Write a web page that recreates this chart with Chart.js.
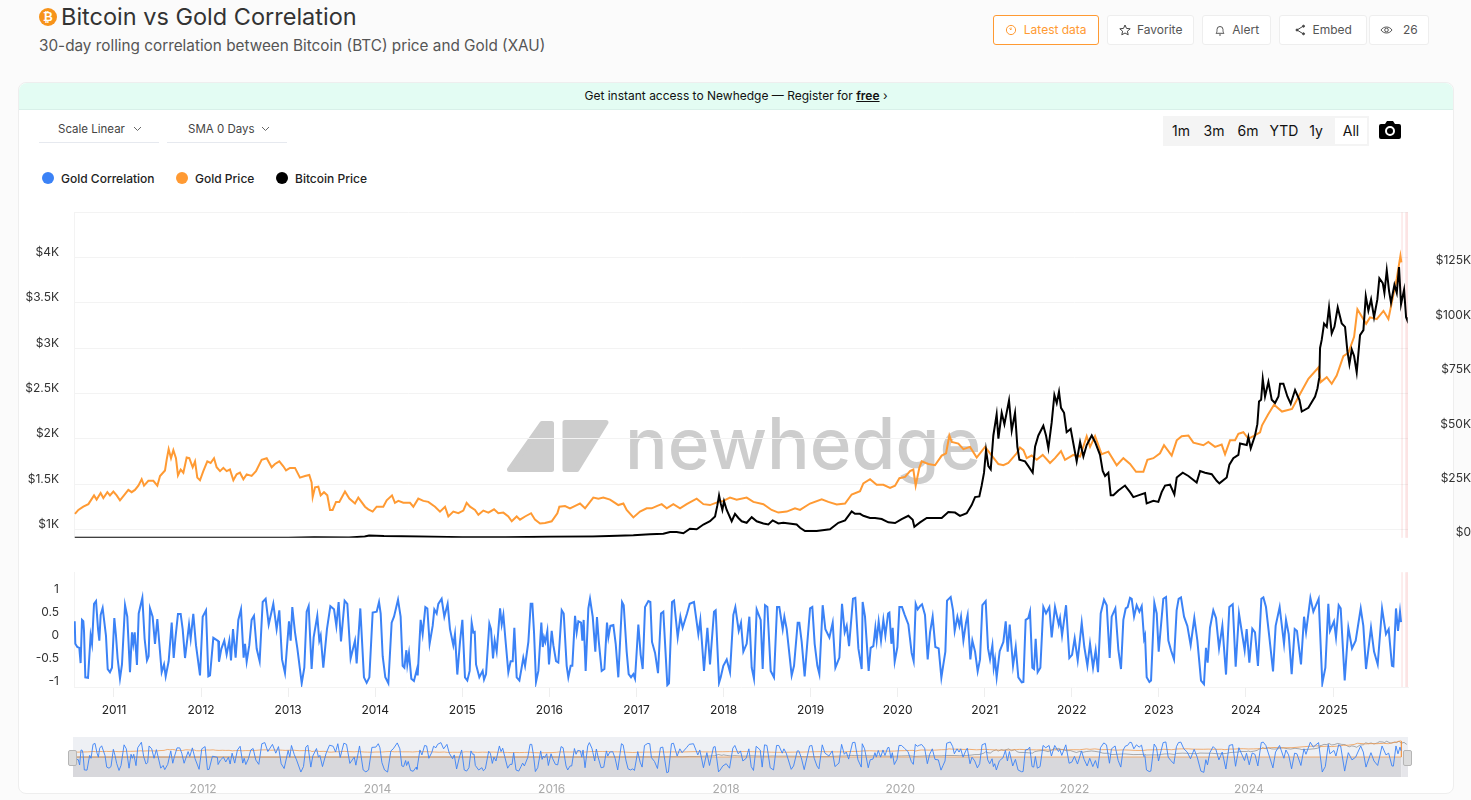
<!DOCTYPE html>
<html lang="en">
<head>
<meta charset="UTF-8">
<title>Bitcoin vs Gold Correlation</title>
<script src="https://cdn.jsdelivr.net/npm/chart.js"></script>
<style>
  html, body { margin: 0; padding: 0; height: 800px; overflow: hidden; background: #fbfbfb; font-family: Inter, sans-serif; color: #333; }
  .abs { position: absolute; white-space: nowrap; }
  canvas { position: absolute; left: 0; }
  h1 { position: absolute; left: 61px; top: 2px; margin: 0; font-size: 23.5px; line-height: 30px; font-weight: 400; color: #333; white-space: nowrap; }
  .sub { left: 39px; top: 36px; font-size: 15.3px; line-height: 20px; color: #555; }
  .coin { left: 39px; top: 8px; width: 18px; height: 18px; border-radius: 50%; background: #f7931a; color: #fff; font: bold 12px/18px "DejaVu Sans", sans-serif; text-align: center; }
  .btn { top: 15px; height: 28px; line-height: 28px; background: #fff; border: 1px solid #eeeeee; border-radius: 3px; font-size: 12px; color: #555; text-align: center; }
  .btn svg { vertical-align: -2px; margin-right: 3px; }
  .btn.on { border: 1px solid #ff9a33; color: #ff9a33; }
  .card { left: 18px; top: 82px; width: 1434px; height: 710px; background: #fff; border: 1px solid #eeeeee; border-radius: 8px; }
  .banner { left: 19px; top: 83px; width: 1434px; height: 26px; line-height: 26px; background: #e3fcf3; border-bottom: 1px solid #d8f0e9; border-radius: 8px 8px 0 0; text-align: center; font-size: 12px; color: #111; }
  .banner b { text-decoration: underline; font-weight: 600; }
  .select { top: 116px; height: 26px; line-height: 26px; border-bottom: 1px solid #e6e9ef; font-size: 11.5px; color: #444; }
  .select svg { position: absolute; right: 17px; top: 10px; }
  .range { left: 1163px; top: 116px; width: 206px; height: 30px; background: #f4f4f4; }
  .range span { position: absolute; top: 2px; height: 26px; line-height: 26px; text-align: center; font-size: 14px; color: #111; }
  .range span.on { background: #fff; }
  .legend { top: 170px; font-size: 12px; font-weight: 500; line-height: 17px; color: #222; }
  .legend i { position: absolute; left: -19px; top: 2px; width: 12px; height: 12px; border-radius: 50%; }
  .mark { left: 625px; top: 403px; font-size: 71px; line-height: 80px; font-weight: 500; color: #cdcdcd; }
  .handle { top: 750px; width: 7px; height: 14px; background: #dcdcdc; border: 1px solid #b5b5b5; border-radius: 2px; }
</style>
</head>
<body>
  <div class="abs coin">₿</div>
  <h1>Bitcoin vs Gold Correlation</h1>
  <div class="abs sub">30-day rolling correlation between Bitcoin (BTC) price and Gold (XAU)</div>

  <div class="abs btn on" style="left:993px;width:104px"><svg width="12" height="12" viewBox="0 0 12 12" fill="none" stroke="#ff9a33"><circle cx="6" cy="6" r="4.6"/><path d="M6 3.5V6L4.5 4.5"/></svg> Latest data</div>
  <div class="abs btn" style="left:1107px;width:85px"><svg width="12" height="12" viewBox="0 0 12 12" fill="none" stroke="#444"><path d="M6 1l1.5 3.4 3.7.4-2.8 2.4.8 3.6L6 9l-3.2 1.8.8-3.6L.8 4.8l3.7-.4z"/></svg> Favorite</div>
  <div class="abs btn" style="left:1202px;width:67px"><svg width="12" height="12" viewBox="0 0 12 12" fill="none" stroke="#555"><path d="M2 9.3c1-1 1-2.2 1-3.8a3 3 0 016 0c0 1.600 0 2.800 1 3.800zM5 11h2"/></svg> Alert</div>
  <div class="abs btn" style="left:1279px;width:86px"><svg width="12" height="12" viewBox="0 0 12 12" fill="#444" stroke="#444"><path d="M9.500 2L3 6l6.500 4" fill="none"/><circle cx="9.500" cy="2.200" r="1"/><circle cx="3" cy="6" r="1"/><circle cx="9.500" cy="9.800" r="1"/></svg> Embed</div>
  <div class="abs btn" style="left:1369px;width:58px"><svg width="13" height="12" viewBox="0 0 13 12" fill="none" stroke="#555"><path d="M1 6c2.500-4 8.500-4 11 0-2.500 4-8.500 4-11 0z"/><circle cx="6.500" cy="6" r="1.800"/></svg> &nbsp;26</div>

  <div class="abs card"></div>
  <div class="abs banner">Get instant access to Newhedge — Register for <b>free</b> &#8250;</div>

  <div class="abs select" style="left:39px;width:101px;padding-left:19px">Scale Linear<svg width="9" height="6" viewBox="0 0 9 6" fill="none" stroke="#666"><path d="M1 1l3.500 3.500L8 1"/></svg></div>
  <div class="abs select" style="left:167px;width:99px;padding-left:21px">SMA 0 Days<svg width="9" height="6" viewBox="0 0 9 6" fill="none" stroke="#666"><path d="M1 1l3.500 3.500L8 1"/></svg></div>

  <div class="abs range" id="range"></div>
  <svg class="abs" style="left:1379px;top:121px" width="22" height="18" viewBox="0 0 22 18"><path d="M2 3h4l2-3h6l2 3h4a2 2 0 012 2v11a2 2 0 01-2 2H2a2 2 0 01-2-2V5a2 2 0 012-2z" fill="#000"/><circle cx="11" cy="10" r="4" fill="none" stroke="#fff" stroke-width="2"/></svg>

  <div id="legend"></div>

  <svg class="abs" style="left:505px;top:418px" width="108" height="56" viewBox="0 0 108 56">
    <g fill="#cdcdcd" stroke="#cdcdcd" stroke-width="5" stroke-linejoin="round">
      <path d="M4.500 51.500L37 5.500h9.500v46z"/>
      <path d="M60 4.500h41L72 51.500H60z"/>
    </g>
  </svg>
  <div class="abs mark">newhedge</div>

  <canvas id="mainChart" width="1471" height="370" style="top:190px"></canvas>
  <canvas id="corrChart" width="1471" height="170" style="top:550px"></canvas>
  <canvas id="navChart" width="1471" height="70" style="top:726px"></canvas>

  <div class="abs handle" style="left:68px"></div>
  <div class="abs handle" style="left:1403px"></div>

<script>
// values: [year, value]
const goldPoints = [[2010.552,1173],[2010.591,1216],[2010.648,1252],[2010.706,1280],[2010.771,1377],[2010.801,1330],[2010.847,1402],[2010.878,1348],[2010.924,1412],[2010.954,1377],[2010.993,1419],[2011.031,1377],[2011.069,1323],[2011.115,1377],[2011.165,1437],[2011.203,1412],[2011.241,1437],[2011.28,1484],[2011.318,1555],[2011.345,1484],[2011.395,1537],[2011.452,1537],[2011.498,1484],[2011.529,1591],[2011.586,1652],[2011.605,1769],[2011.628,1887],[2011.655,1787],[2011.682,1876],[2011.712,1787],[2011.735,1598],[2011.766,1662],[2011.797,1627],[2011.835,1794],[2011.865,1787],[2011.904,1687],[2011.931,1752],[2011.957,1573],[2011.988,1544],[2012.026,1644],[2012.072,1752],[2012.11,1734],[2012.149,1787],[2012.179,1687],[2012.218,1644],[2012.256,1680],[2012.294,1644],[2012.332,1662],[2012.371,1544],[2012.409,1609],[2012.447,1627],[2012.486,1555],[2012.524,1609],[2012.581,1591],[2012.631,1644],[2012.696,1769],[2012.754,1787],[2012.811,1687],[2012.849,1723],[2012.899,1752],[2012.945,1698],[2012.976,1652],[2013.021,1680],[2013.079,1680],[2013.136,1573],[2013.194,1591],[2013.243,1602],[2013.27,1519],[2013.282,1359],[2013.309,1466],[2013.347,1473],[2013.374,1377],[2013.412,1412],[2013.45,1377],[2013.481,1216],[2013.511,1216],[2013.55,1305],[2013.588,1305],[2013.653,1419],[2013.703,1341],[2013.768,1287],[2013.806,1352],[2013.883,1252],[2013.921,1223],[2013.971,1198],[2014.017,1252],[2014.093,1252],[2014.132,1323],[2014.193,1377],[2014.227,1295],[2014.266,1316],[2014.323,1295],[2014.4,1295],[2014.438,1252],[2014.495,1341],[2014.553,1316],[2014.61,1305],[2014.687,1252],[2014.744,1198],[2014.802,1252],[2014.84,1145],[2014.897,1198],[2014.955,1180],[2015.012,1209],[2015.05,1295],[2015.089,1252],[2015.146,1216],[2015.185,1162],[2015.242,1209],[2015.3,1187],[2015.365,1223],[2015.414,1180],[2015.472,1187],[2015.529,1144],[2015.568,1091],[2015.625,1144],[2015.663,1109],[2015.721,1144],[2015.79,1180],[2015.835,1109],[2015.893,1066],[2015.95,1073],[2016.027,1091],[2016.092,1180],[2016.115,1252],[2016.18,1259],[2016.237,1234],[2016.314,1270],[2016.352,1287],[2016.41,1234],[2016.505,1352],[2016.563,1341],[2016.62,1352],[2016.697,1330],[2016.754,1295],[2016.792,1270],[2016.85,1287],[2016.888,1216],[2016.965,1134],[2017.041,1198],[2017.118,1234],[2017.175,1234],[2017.233,1259],[2017.29,1280],[2017.348,1234],[2017.424,1280],[2017.501,1234],[2017.577,1280],[2017.692,1341],[2017.769,1280],[2017.845,1270],[2017.941,1305],[2017.998,1316],[2018.075,1352],[2018.151,1330],[2018.266,1352],[2018.343,1305],[2018.458,1280],[2018.553,1216],[2018.63,1187],[2018.726,1198],[2018.821,1234],[2018.879,1216],[2018.994,1287],[2019.128,1334],[2019.204,1305],[2019.3,1277],[2019.396,1287],[2019.472,1387],[2019.568,1423],[2019.606,1509],[2019.683,1555],[2019.759,1494],[2019.836,1494],[2019.913,1459],[2019.97,1484],[2020.02,1566],[2020.085,1580],[2020.142,1644],[2020.18,1662],[2020.207,1484],[2020.249,1680],[2020.276,1752],[2020.353,1723],[2020.429,1709],[2020.506,1816],[2020.556,1841],[2020.594,2037],[2020.621,1966],[2020.697,1948],[2020.755,1887],[2020.831,1912],[2020.908,1794],[2021.004,1912],[2021.061,1841],[2021.157,1723],[2021.214,1709],[2021.271,1734],[2021.367,1841],[2021.405,1905],[2021.444,1876],[2021.482,1787],[2021.539,1816],[2021.597,1769],[2021.666,1823],[2021.75,1734],[2021.807,1787],[2021.876,1866],[2021.922,1769],[2022.018,1823],[2022.095,1805],[2022.171,2030],[2022.21,1912],[2022.267,2030],[2022.343,1830],[2022.42,1859],[2022.516,1709],[2022.592,1787],[2022.669,1723],[2022.738,1637],[2022.822,1637],[2022.868,1769],[2022.937,1787],[2023.013,1841],[2023.059,1930],[2023.147,1816],[2023.205,1984],[2023.262,2030],[2023.339,2037],[2023.396,1959],[2023.511,1930],[2023.568,1966],[2023.645,1912],[2023.721,1937],[2023.76,1830],[2023.817,1984],[2023.875,1984],[2023.913,2055],[2023.97,2073],[2024.028,2001],[2024.085,2030],[2024.162,2073],[2024.185,2150],[2024.254,2269],[2024.323,2376],[2024.414,2301],[2024.529,2330],[2024.621,2494],[2024.717,2662],[2024.832,2787],[2024.859,2626],[2024.928,2680],[2024.985,2608],[2025.042,2698],[2025.119,2912],[2025.176,2948],[2025.242,3126],[2025.28,3430],[2025.38,3269],[2025.425,3340],[2025.502,3322],[2025.579,3412],[2025.636,3322],[2025.674,3501],[2025.732,3769],[2025.774,4019],[2025.785,3947]];

const btcPoints = [[2010.55,0],[2011.4,30],[2012,10],[2013,13],[2013.3,200],[2013.7,130],[2013.88,600],[2013.93,1100],[2014.1,800],[2014.5,620],[2015,300],[2015.5,270],[2016,430],[2016.5,650],[2016.965,1190],[2017.156,1600],[2017.309,1900],[2017.386,2700],[2017.462,2700],[2017.539,2100],[2017.615,4200],[2017.692,3900],[2017.769,6100],[2017.845,7600],[2017.903,9800],[2017.93,15000],[2017.949,19500],[2017.968,15800],[2017.987,12800],[2018.006,16800],[2018.037,12800],[2018.094,7600],[2018.132,11000],[2018.171,9100],[2018.209,7600],[2018.266,6900],[2018.324,9500],[2018.381,7600],[2018.458,6600],[2018.515,6100],[2018.565,8000],[2018.63,6600],[2018.687,6900],[2018.84,6100],[2018.879,4600],[2018.936,3100],[2019.07,3100],[2019.223,3900],[2019.319,6900],[2019.396,8000],[2019.472,12100],[2019.51,11000],[2019.568,11000],[2019.606,10100],[2019.683,9100],[2019.74,9100],[2019.817,8600],[2019.893,7100],[2019.97,6800],[2020.046,8600],[2020.123,10100],[2020.173,8300],[2020.192,5100],[2020.257,7100],[2020.334,9100],[2020.391,9100],[2020.506,9100],[2020.582,11800],[2020.659,11600],[2020.716,10100],[2020.793,11300],[2020.85,15000],[2020.889,18700],[2020.938,19000],[2020.965,24000],[2020.992,29900],[2021.015,40300],[2021.042,32900],[2021.069,31400],[2021.099,47000],[2021.137,56700],[2021.157,45500],[2021.195,57400],[2021.226,52200],[2021.279,63100],[2021.31,49300],[2021.348,57400],[2021.375,41800],[2021.398,35900],[2021.463,35100],[2021.501,32900],[2021.551,29900],[2021.578,41800],[2021.616,47000],[2021.673,51500],[2021.704,47000],[2021.731,41100],[2021.769,53000],[2021.8,65600],[2021.827,61900],[2021.853,67100],[2021.876,59700],[2021.911,57400],[2021.941,48500],[2021.987,50000],[2022.018,43300],[2022.056,35100],[2022.095,44000],[2022.133,37300],[2022.171,42600],[2022.229,47000],[2022.267,44000],[2022.324,38100],[2022.355,30700],[2022.382,28400],[2022.42,29900],[2022.447,19500],[2022.477,19500],[2022.535,21700],[2022.611,24000],[2022.669,21000],[2022.707,18700],[2022.764,19500],[2022.841,20500],[2022.86,15800],[2022.937,17000],[2022.994,16500],[2023.032,21000],[2023.071,24000],[2023.128,24400],[2023.178,19900],[2023.205,27700],[2023.274,29900],[2023.339,28400],[2023.434,25400],[2023.473,30700],[2023.53,29900],[2023.607,29200],[2023.664,26200],[2023.695,25000],[2023.779,27700],[2023.81,33600],[2023.855,36600],[2023.913,38100],[2023.932,43300],[2024.009,42600],[2024.028,46300],[2024.055,41100],[2024.104,47000],[2024.131,52200],[2024.15,62600],[2024.174,63400],[2024.193,73000],[2024.219,64900],[2024.258,71600],[2024.296,63400],[2024.334,61900],[2024.373,64900],[2024.392,70800],[2024.43,70800],[2024.476,64900],[2024.514,61600],[2024.564,67900],[2024.614,63400],[2024.641,58000],[2024.717,59700],[2024.794,64900],[2024.821,68600],[2024.843,73800],[2024.851,87200],[2024.87,90900],[2024.897,98400],[2024.928,96900],[2024.954,105800],[2024.985,93900],[2025.016,96900],[2025.054,105800],[2025.1,98400],[2025.138,96900],[2025.165,85700],[2025.188,79800],[2025.215,86500],[2025.242,83500],[2025.272,76000],[2025.31,93100],[2025.349,95400],[2025.376,111000],[2025.406,104300],[2025.437,109500],[2025.471,101300],[2025.509,109500],[2025.532,119200],[2025.571,117000],[2025.59,112500],[2025.617,122900],[2025.644,113200],[2025.666,108000],[2025.705,116200],[2025.732,112500],[2025.758,124400],[2025.781,107300],[2025.816,114000],[2025.839,101300],[2025.846,100600]];

const corrPoints = [[2010.549,.41],[2010.556,-.08],[2010.579,-.15],[2010.602,-.17],[2010.617,-.5],[2010.633,.44],[2010.648,.41],[2010.656,.2],[2010.671,-.81],[2010.702,-.82],[2010.732,.1],[2010.748,-.08],[2010.771,.79],[2010.794,.85],[2010.817,.24],[2010.832,-.01],[2010.847,.55],[2010.87,.7],[2010.908,.1],[2010.928,-.63],[2010.954,-.7],[2010.977,-.6],[2011.004,.48],[2011.023,.1],[2011.042,-.4],[2011.069,-.84],[2011.092,-.53],[2011.127,.76],[2011.153,.51],[2011.184,-.7],[2011.207,.17],[2011.222,-.08],[2011.238,.17],[2011.264,-.54],[2011.284,.58],[2011.326,.92],[2011.352,.03],[2011.379,-.44],[2011.398,-.35],[2011.414,.69],[2011.444,.51],[2011.471,-.08],[2011.498,.46],[2011.548,-.7],[2011.575,-.53],[2011.594,-.79],[2011.628,-.46],[2011.663,.38],[2011.686,-.39],[2011.705,.03],[2011.735,.57],[2011.766,.57],[2011.789,.24],[2011.816,-.39],[2011.862,.34],[2011.881,.03],[2011.911,.57],[2011.942,-.11],[2011.988,-.77],[2012.019,.51],[2012.057,.65],[2012.084,-.79],[2012.103,-.77],[2012.141,.05],[2012.198,-.02],[2012.206,-.47],[2012.233,-.19],[2012.267,-.01],[2012.294,-.31],[2012.325,-.01],[2012.344,-.44],[2012.367,.24],[2012.397,-.38],[2012.428,.44],[2012.459,.67],[2012.489,-.38],[2012.505,-.08],[2012.524,-.47],[2012.554,-.11],[2012.581,.44],[2012.608,.53],[2012.639,-.19],[2012.673,-.46],[2012.708,.83],[2012.742,.9],[2012.777,.34],[2012.83,.79],[2012.868,.24],[2012.899,.65],[2012.93,-.42],[2012.964,-.72],[2013.01,.41],[2013.029,-.01],[2013.048,.72],[2013.079,.17],[2013.106,-.18],[2013.156,-.94],[2013.186,-.6],[2013.213,.62],[2013.236,.74],[2013.27,-.63],[2013.293,.06],[2013.335,.53],[2013.358,-.01],[2013.374,.1],[2013.404,-.6],[2013.446,.24],[2013.485,.74],[2013.527,.67],[2013.554,.31],[2013.58,.83],[2013.607,-.03],[2013.649,.86],[2013.68,.79],[2013.718,-.4],[2013.768,-.01],[2013.787,-.51],[2013.829,.69],[2013.871,-.81],[2013.902,-.93],[2013.933,-.81],[2013.971,.6],[2014.017,.62],[2014.044,.83],[2014.063,.58],[2014.086,-.35],[2014.116,-.81],[2014.151,-.94],[2014.189,.38],[2014.216,.51],[2014.262,.88],[2014.292,.51],[2014.315,-.56],[2014.335,-.6],[2014.358,-.22],[2014.369,-.53],[2014.388,-.28],[2014.415,-.84],[2014.445,-.89],[2014.48,-.63],[2014.488,-.77],[2014.522,.44],[2014.545,.13],[2014.576,.72],[2014.599,.69],[2014.625,-.08],[2014.66,.31],[2014.679,.67],[2014.706,.58],[2014.725,.79],[2014.763,.9],[2014.794,.51],[2014.832,.79],[2014.859,.24],[2014.897,-.11],[2014.916,.13],[2014.943,-.75],[2014.974,-.04],[2015.001,.44],[2015.031,-.81],[2015.058,-.88],[2015.085,-.67],
[2015.108,.38],[2015.127,.17],[2015.143,.18],[2015.158,-.53],[2015.196,-.81],[2015.234,-.67],[2015.25,-.86],[2015.273,-.74],[2015.311,.36],[2015.33,.24],[2015.353,-.4],[2015.372,-.01],[2015.395,-.25],[2015.434,.69],[2015.453,.34],[2015.472,.55],[2015.495,.03],[2015.529,-.7],[2015.556,-.46],[2015.579,-.46],[2015.598,.27],[2015.625,-.81],[2015.656,-.88],[2015.682,-.6],[2015.701,-.38],[2015.721,-.56],[2015.759,-.04],[2015.786,.79],[2015.805,.79],[2015.824,.17],[2015.847,-.91],[2015.874,-.67],[2015.908,.38],[2015.924,-.15],[2015.939,.06],[2015.954,-.04],[2015.977,.2],[2015.996,-.53],[2016.027,.2],[2016.046,-.11],[2016.077,-.46],[2016.103,-.49],[2016.142,.65],[2016.165,.58],[2016.199,-.56],[2016.218,-.81],[2016.245,-.56],[2016.264,-.56],[2016.295,.53],[2016.314,.17],[2016.333,.41],[2016.364,.38],[2016.379,-.01],[2016.394,.44],[2016.417,-.67],[2016.448,.69],[2016.467,.9],[2016.498,.51],[2016.528,-.25],[2016.547,.5],[2016.567,-.01],[2016.601,-.67],[2016.632,-.63],[2016.662,.38],[2016.678,.06],[2016.701,.31],[2016.735,.33],[2016.762,-.08],[2016.792,-.81],[2016.835,.83],[2016.854,.76],[2016.888,-.25],[2016.911,-.74],[2016.938,-.81],[2016.965,-.74],[2016.984,-.84],[2017.022,.34],[2017.049,-.32],[2017.072,-.63],[2017.099,.72],[2017.137,.85],[2017.16,.83],[2017.179,-.04],[2017.214,-.28],[2017.248,-.72],[2017.282,.58],[2017.309,.62],[2017.355,-.98],[2017.374,-.94],[2017.409,.83],[2017.432,.86],[2017.474,.06],[2017.505,.51],[2017.531,.27],[2017.581,.58],[2017.612,.79],[2017.661,.83],[2017.711,.13],[2017.734,.44],[2017.776,-.67],[2017.815,.27],[2017.845,-.53],[2017.891,.62],[2017.91,.65],[2017.949,-.93],[2017.968,-.81],[2017.998,-.56],[2018.037,-.42],[2018.075,-.7],[2018.113,.55],[2018.136,.72],[2018.175,.2],[2018.201,.38],[2018.228,-.25],[2018.266,-.08],[2018.297,.51],[2018.324,-.6],[2018.35,-.84],[2018.381,.67],[2018.427,.44],[2018.45,-.63],[2018.477,.76],[2018.504,.72],[2018.542,-.67],[2018.58,-.81],[2018.615,.72],[2018.641,.72],[2018.68,.24],[2018.699,.51],[2018.726,.24],[2018.783,-.77],[2018.81,-.56],[2018.852,.38],[2018.871,.38],[2018.898,-.04],[2018.932,-.79],[2018.994,.69],[2019.02,.72],[2019.047,-.08],[2019.078,-.56],[2019.101,-.74],[2019.139,.76],[2019.17,.24],[2019.216,.06],[2019.254,.38],[2019.285,-.6],[2019.331,-.38],[2019.361,.79],[2019.392,.17],[2019.415,.31],[2019.442,-.13],[2019.487,.9],[2019.514,.92],[2019.549,-.18],[2019.587,-.63],[2019.598,.83],[2019.625,.51],[2019.667,-.67],
[2019.69,-.17],[2019.721,-.13],[2019.744,.27],[2019.759,-.01],[2019.782,.41],[2019.809,-.01],[2019.836,.44],[2019.859,.1],[2019.89,.58],[2019.905,.6],[2019.928,-.08],[2019.943,.27],[2019.966,-.47],[2019.997,-.15],[2020.02,.72],[2020.05,.72],[2020.081,.55],[2020.123,.34],[2020.161,-.28],[2020.184,-.46],[2020.207,.79],[2020.23,.67],[2020.257,.74],[2020.28,.78],[2020.314,.55],[2020.345,-.42],[2020.372,.17],[2020.402,.51],[2020.433,-.15],[2020.471,-.18],[2020.502,-.82],[2020.525,-.53],[2020.548,-.25],[2020.567,.86],[2020.609,.94],[2020.636,.65],[2020.655,.2],[2020.686,.51],[2020.709,.31],[2020.728,.51],[2020.755,-.01],[2020.785,.38],[2020.804,.55],[2020.835,-.42],[2020.858,-.01],[2020.889,-.25],[2020.919,-.68],[2020.946,-.42],[2020.973,.76],[2021.011,.85],[2021.038,-.18],[2021.061,-.42],[2021.088,-.11],[2021.103,-.6],[2021.118,-.42],[2021.137,-.81],[2021.172,-.24],[2021.214,-.04],[2021.241,.41],[2021.264,-.25],[2021.287,.34],[2021.325,-.56],[2021.356,-.15],[2021.386,-.81],[2021.425,-.92],[2021.444,-.91],[2021.47,.44],[2021.501,.48],[2021.52,.62],[2021.547,-.6],[2021.566,-.63],[2021.585,.03],[2021.608,-.7],[2021.639,-.6],[2021.673,.72],[2021.704,.58],[2021.742,.72],[2021.769,.06],[2021.807,.72],[2021.85,.34],[2021.865,.48],[2021.888,.1],[2021.934,.76],[2021.972,-.39],[2022.003,-.32],[2022.033,.04],[2022.068,-.44],[2022.087,-.11],[2022.114,.38],[2022.144,-.15],[2022.179,-.56],[2022.209,-.08],[2022.244,-.6],[2022.274,-.22],[2022.301,-.7],[2022.332,.58],[2022.37,.88],[2022.401,.76],[2022.435,-.39],[2022.458,.51],[2022.5,.69],[2022.535,-.22],[2022.565,-.63],[2022.592,.44],[2022.619,.69],[2022.642,.72],[2022.669,.92],[2022.688,.9],[2022.715,.51],[2022.745,.76],[2022.776,.62],[2022.803,.74],[2022.83,.03],[2022.841,.1],[2022.86,-.81],[2022.891,-.91],[2022.91,-.88],[2022.948,.81],[2022.975,.58],[2022.998,-.25],
[2023.051,.9],[2023.082,.94],[2023.109,-.01],[2023.139,-.22],[2023.174,-.42],[2023.204,.65],[2023.227,.9],[2023.254,.93],[2023.289,.51],[2023.327,.31],[2023.365,-.11],[2023.407,.48],[2023.442,-.01],[2023.484,-.88],[2023.518,-.96],[2023.541,-.17],[2023.56,-.49],[2023.587,.27],[2023.625,.65],[2023.656,.48],[2023.691,-.18],[2023.729,.31],[2023.771,-.75],[2023.809,.72],[2023.848,.78],[2023.882,-.58],[2023.92,.58],[2023.985,-.22],[2024.008,.24],[2024.039,-.49],[2024.073,.25],[2024.104,.17],[2024.138,-.56],[2024.177,.9],[2024.2,.93],[2024.23,.72],[2024.269,.06],[2024.311,-.68],[2024.341,.31],[2024.387,.72],[2024.437,-.08],[2024.46,.44],[2024.491,.13],[2024.525,-.74],[2024.56,.24],[2024.586,.2],[2024.632,-.53],[2024.667,.51],[2024.69,.17],[2024.74,.92],[2024.774,.62],[2024.835,.9],[2024.877,-.94],[2024.912,-.6],[2024.946,.79],[2024.965,.2],[2025.011,.41],[2025.034,.06],[2025.065,.76],[2025.088,.69],[2025.134,-.88],[2025.176,.27],[2025.218,-.18],[2025.26,-.01],[2025.318,.69],[2025.348,.31],[2025.379,-.63],[2025.436,.27],[2025.471,-.25],[2025.513,-.53],[2025.563,.69],[2025.608,.13],[2025.639,.24],[2025.677,-.56],[2025.693,-.57],[2025.723,.69],[2025.746,.2],[2025.769,.62],[2025.781,.39]];

const goldTicks = [1000, 1500, 2000, 2500, 3000, 3500, 4000, 4500];
const goldTickLabels = ['$1K', '$1.5K', '$2K', '$2.5K', '$3K', '$3.5K', '$4K', ''];
const btcTicks = [0, 25000, 50000, 75000, 100000, 125000];
const btcTickLabels = ['$0', '$25K', '$50K', '$75K', '$100K', '$125K'];
const corrTicks = [-1, -0.5, 0, 0.5, 1];
const corrTickLabels = ['-1', '-0.5', '0', '0.5', '1'];
const yearTicks = [2011, 2012, 2013, 2014, 2015, 2016, 2017, 2018, 2019, 2020, 2021, 2022, 2023, 2024, 2025];
const navYearTicks = [2012, 2014, 2016, 2018, 2020, 2022, 2024];
const alertBands = [[2025.785, 2025.80], [2025.83, 2025.861]];

const legendNames = ['Gold Correlation', 'Gold Price', 'Bitcoin Price'];
const legendColors = ['#3b82f6', '#ff9a33', '#000000'];
const legendLefts = [61, 195, 295];
const rangeNames = ['1m', '3m', '6m', 'YTD', '1y', 'All'];
const rangeLefts = [2, 35, 69, 103, 137, 172];
const rangeWidths = [32, 32, 32, 36, 32, 32];

const xMin = 2010.541, xMax = 2025.861;

legendNames.forEach((name, i) => {
  const el = document.createElement('div');
  el.className = 'abs legend';
  el.style.left = legendLefts[i] + 'px';
  el.innerHTML = '<i style="background:' + legendColors[i] + '"></i>' + name;
  document.getElementById('legend').appendChild(el);
});
rangeNames.forEach((name, i) => {
  const el = document.createElement('span');
  el.textContent = name;
  el.style.left = rangeLefts[i] + 'px';
  el.style.width = rangeWidths[i] + 'px';
  if (name === 'All') el.className = 'on';
  document.getElementById('range').appendChild(el);
});

const toXY = pts => pts.map(p => ({ x: p[0], y: p[1] }));

const bandsPlugin = {
  id: 'bands',
  beforeDatasetsDraw(chart) {
    const { ctx, chartArea, scales } = chart;
    ctx.save();
    ctx.fillStyle = 'rgba(240,120,120,0.2)';
    alertBands.forEach(b => {
      const a = scales.x.getPixelForValue(b[0]);
      const e = scales.x.getPixelForValue(b[1]);
      ctx.fillRect(a, chartArea.top, e - a, chartArea.bottom - chartArea.top);
    });
    ctx.restore();
  }
};

const navBackPlugin = {
  id: 'navBack',
  beforeDatasetsDraw(chart) {
    const { ctx, chartArea, scales } = chart;
    const zero = scales.yCorr.getPixelForValue(0);
    const end = scales.x.getPixelForValue(goldPoints[goldPoints.length - 1][0]);
    ctx.save();
    ctx.fillStyle = '#eef0f4';
    ctx.fillRect(chartArea.left, chartArea.top, chartArea.right - chartArea.left, zero - chartArea.top);
    ctx.fillStyle = '#d8d8dc';
    ctx.fillRect(chartArea.left, zero, end - chartArea.left, chartArea.bottom - zero);
    ctx.fillStyle = '#e6e6ea';
    ctx.fillRect(end, zero, chartArea.right - end, chartArea.bottom - zero);
    ctx.restore();
  }
};

const tickFont = { family: 'Inter', size: 12 };
const lineStyle = { pointRadius: 0, borderWidth: 2, tension: 0, fill: false };

new Chart(document.getElementById('mainChart'), {
  type: 'line',
  data: {
    datasets: [
      { label: 'Bitcoin Price', data: toXY(btcPoints), yAxisID: 'yBtc', borderColor: '#000000', ...lineStyle },
      { label: 'Gold Price', data: toXY(goldPoints), yAxisID: 'yGold', borderColor: '#ff9a33', ...lineStyle }
    ]
  },
  plugins: [bandsPlugin],
  options: {
    responsive: false,
    animation: false,
    parsing: false,
    normalized: true,
    layout: { padding: { top: 17, bottom: 18 } },
    plugins: { legend: { display: false }, tooltip: { enabled: false } },
    scales: {
      x: { type: 'linear', display: false, min: xMin, max: xMax },
      yGold: {
        position: 'left', min: 909, max: 4500,
        afterBuildTicks: s => { s.ticks = goldTicks.map(v => ({ value: v })); },
        afterFit: s => { s.width = 74; },
        grid: { color: '#f3f3f3', drawTicks: false },
        border: { color: '#f3f3f3' },
        ticks: { autoSkip: false, padding: 15, labelOffset: -5, color: '#333', font: tickFont, callback: (v, i) => goldTickLabels[i] }
      },
      yBtc: {
        position: 'right', min: 0, max: 149554,
        afterBuildTicks: s => { s.ticks = btcTicks.map(v => ({ value: v })); },
        afterFit: s => { s.width = 63; },
        grid: { display: false, drawTicks: false },
        border: { display: false },
        ticks: { autoSkip: false, padding: 3, labelOffset: -5, crossAlign: 'far', color: '#333', font: tickFont, callback: (v, i) => btcTickLabels[i] }
      }
    }
  }
});

new Chart(document.getElementById('corrChart'), {
  type: 'line',
  data: {
    datasets: [
      { label: 'Gold Correlation', data: toXY(corrPoints), yAxisID: 'y', borderColor: '#3b82f6', ...lineStyle }
    ]
  },
  plugins: [bandsPlugin],
  options: {
    responsive: false,
    animation: false,
    parsing: false,
    layout: { padding: { top: 17, right: 63 } },
    plugins: { legend: { display: false }, tooltip: { enabled: false } },
    scales: {
      x: {
        type: 'linear', min: xMin, max: xMax,
        afterBuildTicks: s => { s.ticks = yearTicks.map(v => ({ value: v })); },
        afterFit: s => { s.height = 33; },
        grid: { drawOnChartArea: false, color: '#eeeeee', tickLength: 10 },
        border: { color: '#f3f3f3' },
        ticks: { autoSkip: false, maxRotation: 0, padding: 6, color: '#222', font: tickFont, callback: v => String(v) }
      },
      y: {
        min: -1.0208, max: 1.479,
        afterBuildTicks: s => { s.ticks = corrTicks.map(v => ({ value: v })); },
        afterFit: s => { s.width = 74; },
        grid: { display: false, drawTicks: false },
        border: { color: '#f3f3f3' },
        ticks: { autoSkip: false, padding: 15, labelOffset: -5, color: '#333', font: tickFont, callback: (v, i) => corrTickLabels[i] }
      }
    }
  }
});

const navLine = { pointRadius: 0, borderWidth: 1, tension: 0, fill: false };
const lastGold = goldPoints[goldPoints.length - 1];

new Chart(document.getElementById('navChart'), {
  type: 'line',
  data: {
    datasets: [
      { label: 'Gold Correlation', data: toXY(corrPoints), yAxisID: 'yCorr', borderColor: 'rgba(59,130,246,0.9)', ...navLine },
      { label: 'Gold Price', data: toXY(goldPoints.concat([[lastGold[0], 0], [goldPoints[0][0], 0]])), yAxisID: 'yGold', borderColor: 'rgba(240,150,70,0.75)', ...navLine },
      { label: 'Bitcoin Price', data: toXY(btcPoints), yAxisID: 'yBtc', borderColor: 'rgba(60,60,60,0.4)', ...navLine }
    ]
  },
  plugins: [navBackPlugin],
  options: {
    responsive: false,
    animation: false,
    parsing: false,
    layout: { padding: { top: 11, left: 73, right: 63 } },
    plugins: { legend: { display: false }, tooltip: { enabled: false } },
    scales: {
      x: {
        type: 'linear', min: xMin, max: xMax,
        afterBuildTicks: s => { s.ticks = navYearTicks.map(v => ({ value: v })); },
        afterFit: s => { s.height = 19; },
        grid: { display: false, drawTicks: false },
        border: { display: false },
        ticks: { autoSkip: false, maxRotation: 0, padding: 5, labelOffset: 3, color: '#aaaaaa', font: tickFont, callback: v => String(v) }
      },
      yCorr: { display: false, min: -1.25, max: 1.25 },
      yGold: { display: false, min: -5000, max: 5000 },
      yBtc: { display: false, min: -156000, max: 156000 }
    }
  }
});
</script>
</body>
</html>
